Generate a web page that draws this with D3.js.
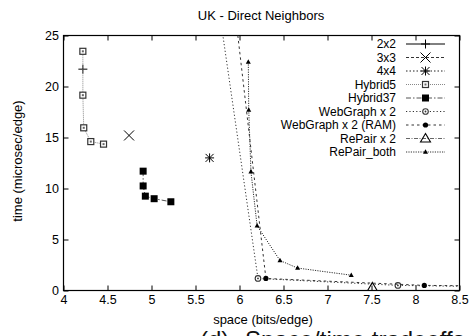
<!DOCTYPE html>
<html><head><meta charset="utf-8">
<script src="https://cdn.jsdelivr.net/npm/d3@7"></script>
<style>body{margin:0;background:#fff;overflow:hidden}svg{display:block;font-family:"Liberation Sans",Arial,sans-serif}</style>
</head><body><svg id="c" width="469" height="336"></svg>
<script>
const title = "UK - Direct Neighbors";
const xLabel = "space (bits/edge)";
const yLabel = "time (microsec/edge)";
const captionA = "(d)";
const captionB = "Space/time tradeoffs";
const xTicks = [4, 4.5, 5, 5.5, 6, 6.5, 7, 7.5, 8, 8.5];
const yTicks = [0, 5, 10, 15, 20, 25];
const seriesNames = ["2x2","3x3","4x4","Hybrid5","Hybrid37","WebGraph x 2","WebGraph x 2 (RAM)","RePair x 2","RePair_both"];
const s2x2 = [[4.22, 21.7]];
const s3x3 = [[4.745, 15.2]];
const s4x4 = [[5.66, 13.0]];
const hybrid5 = [[4.22, 23.45],[4.22, 19.15],[4.23, 15.95],[4.31, 14.6],[4.455, 14.35]];
const hybrid37 = [[4.905, 11.7],[4.905, 10.25],[4.93, 9.25],[5.03, 9.0],[5.22, 8.7]];
const webgraph = [[5.56, 40],[6.21, 1.18],[7.80, 0.5],[9.0, 0.35]];
const webgraphRam = [[5.78, 40],[6.30, 1.18],[8.10, 0.5],[9.5, 0.4]];
const repair = [[7.51, 0.3]];
const repairBoth = [[6.10, 22.4],[6.105, 17.7],[6.13, 11.65],[6.20, 6.35],[6.46, 2.94],[6.66, 2.2],[7.27, 1.5]];
const allData = [s2x2, s3x3, s4x4, hybrid5, hybrid37, webgraph, webgraphRam, repair, repairBoth];

const styles = [
  {dash:null, color:"#000", sym:"plus"},
  {dash:"3,2", color:"#333", sym:"cross"},
  {dash:"1.5,2", color:"#222", sym:"star"},
  {dash:"1,1", color:"#888", sym:"sqdot"},
  {dash:"5,2,1.5,2", color:"#555", sym:"sqfill"},
  {dash:"1.2,2.2", color:"#333", sym:"circdot"},
  {dash:"2.5,3", color:"#333", sym:"circfill"},
  {dash:"4,1.5,1,1.5", color:"#666", sym:"tri"},
  {dash:"1.2,1.2", color:"#333", sym:"trifill"}
];

const svg = d3.select("#c");
const L = 63.5, R = 459.5, T = 35.5, B = 290.5;
const x = d3.scaleLinear().domain([4, 8.5]).range([L, R]);
const y = d3.scaleLinear().domain([0, 25]).range([B, T]);

svg.append("defs").append("clipPath").attr("id","clip")
  .append("rect").attr("x",L).attr("y",T).attr("width",R-L).attr("height",B-T);

svg.append("text").attr("x",261).attr("y",19.5).attr("text-anchor","middle")
  .attr("font-size",13).text(title);

// axes
const tl = 5;
const gx = svg.append("g").attr("transform",`translate(0,${B})`)
  .call(d3.axisBottom(x).tickValues(xTicks).tickSize(-tl).tickPadding(5).tickFormat(d3.format("")));
const gxt = svg.append("g").attr("transform",`translate(0,${T})`)
  .call(d3.axisTop(x).tickValues(xTicks).tickSize(-tl).tickFormat(""));
const gy = svg.append("g").attr("transform",`translate(${L},0)`)
  .call(d3.axisLeft(y).tickValues(yTicks).tickSize(-tl).tickPadding(4.5));
const gyr = svg.append("g").attr("transform",`translate(${R},0)`)
  .call(d3.axisRight(y).tickValues(yTicks).tickSize(-tl).tickFormat(""));
[gx,gxt,gy,gyr].forEach(g=>{
  g.select(".domain").remove();
  g.selectAll("line").attr("stroke","#000");
  g.selectAll("text").attr("font-size",12.5).attr("fill","#000").attr("font-family","Liberation Sans, Arial, sans-serif");
});
svg.append("rect").attr("x",L).attr("y",T).attr("width",R-L).attr("height",B-T)
  .attr("fill","none").attr("stroke","#000").attr("stroke-width",1.2);

svg.append("text").attr("x",263).attr("y",324).attr("text-anchor","middle").attr("font-size",13).text(xLabel);
svg.append("text").attr("transform","translate(22,161) rotate(-90)").attr("text-anchor","middle").attr("font-size",13).text(yLabel);
svg.append("text").attr("x",200).attr("y",348).attr("font-size",24).attr("fill","#111").text(captionA);
svg.append("text").attr("x",245).attr("y",348).attr("font-size",24).attr("fill","#111").text(captionB);

function drawSym(g, sym, px, py){
  const c = "#000";
  if(sym==="plus"){
    g.append("path").attr("d",`M${px-4.5},${py}H${px+4.5}M${px},${py-4.5}V${py+4.5}`).attr("stroke",c).attr("stroke-width",1);
  } else if(sym==="cross"){
    g.append("path").attr("d",`M${px-5},${py-5}L${px+5},${py+5}M${px-5},${py+5}L${px+5},${py-5}`).attr("stroke",c).attr("stroke-width",1);
  } else if(sym==="star"){
    g.append("path").attr("d",`M${px-4.5},${py}H${px+4.5}M${px},${py-4.5}V${py+4.5}M${px-4},${py-4}L${px+4},${py+4}M${px-4},${py+4}L${px+4},${py-4}`).attr("stroke",c).attr("stroke-width",1);
  } else if(sym==="sqdot"){
    g.append("rect").attr("x",px-3).attr("y",py-3).attr("width",6).attr("height",6).attr("fill","#fff").attr("stroke","#333").attr("stroke-width",1.2);
    g.append("rect").attr("x",px-1).attr("y",py-1).attr("width",2).attr("height",2).attr("fill","#666");
  } else if(sym==="sqfill"){
    g.append("rect").attr("x",px-3.5).attr("y",py-3.5).attr("width",7).attr("height",7).attr("fill","#000");
  } else if(sym==="circdot"){
    g.append("circle").attr("cx",px).attr("cy",py).attr("r",2.8).attr("fill","#fff").attr("stroke","#333").attr("stroke-width",1.1);
    g.append("circle").attr("cx",px).attr("cy",py).attr("r",0.9).attr("fill","#333");
  } else if(sym==="circfill"){
    g.append("circle").attr("cx",px).attr("cy",py).attr("r",2.6).attr("fill","#000");
  } else if(sym==="tri"){
    g.append("path").attr("d",`M${px},${py-5}L${px+5},${py+3.5}L${px-5},${py+3.5}Z`).attr("fill","none").attr("stroke","#000").attr("stroke-width",1.1);
  } else if(sym==="trifill"){
    g.append("path").attr("d",`M${px},${py-2.8}L${px+2.5},${py+1.8}L${px-2.5},${py+1.8}Z`).attr("fill","#000");
  }
}

const plot = svg.append("g").attr("clip-path","url(#clip)");
const line = d3.line().x(d=>x(d[0])).y(d=>y(d[1]));
allData.forEach((data,i)=>{
  const st = styles[i];
  if(data.length>1){
    plot.append("path").attr("d",line(data)).attr("fill","none").attr("stroke",st.color)
      .attr("stroke-width",1).attr("stroke-dasharray",st.dash);
  }
  data.forEach(d=>{
    if(d[0]>=4 && d[0]<=8.5 && d[1]>=0 && d[1]<=25) drawSym(plot, st.sym, x(d[0]), y(d[1]));
  });
});

// legend
const lg = svg.append("g");
seriesNames.forEach((n,i)=>{
  const yy = 44 + i*13.5;
  lg.append("text").attr("x",396).attr("y",yy+4.3).attr("text-anchor","end").attr("font-size",12).text(n);
  const st = styles[i];
  lg.append("line").attr("x1",406).attr("x2",445).attr("y1",yy).attr("y2",yy)
    .attr("stroke",st.color).attr("stroke-width",1).attr("stroke-dasharray",st.dash);
  drawSym(lg, st.sym, 425.5, yy);
});
</script></body></html>
